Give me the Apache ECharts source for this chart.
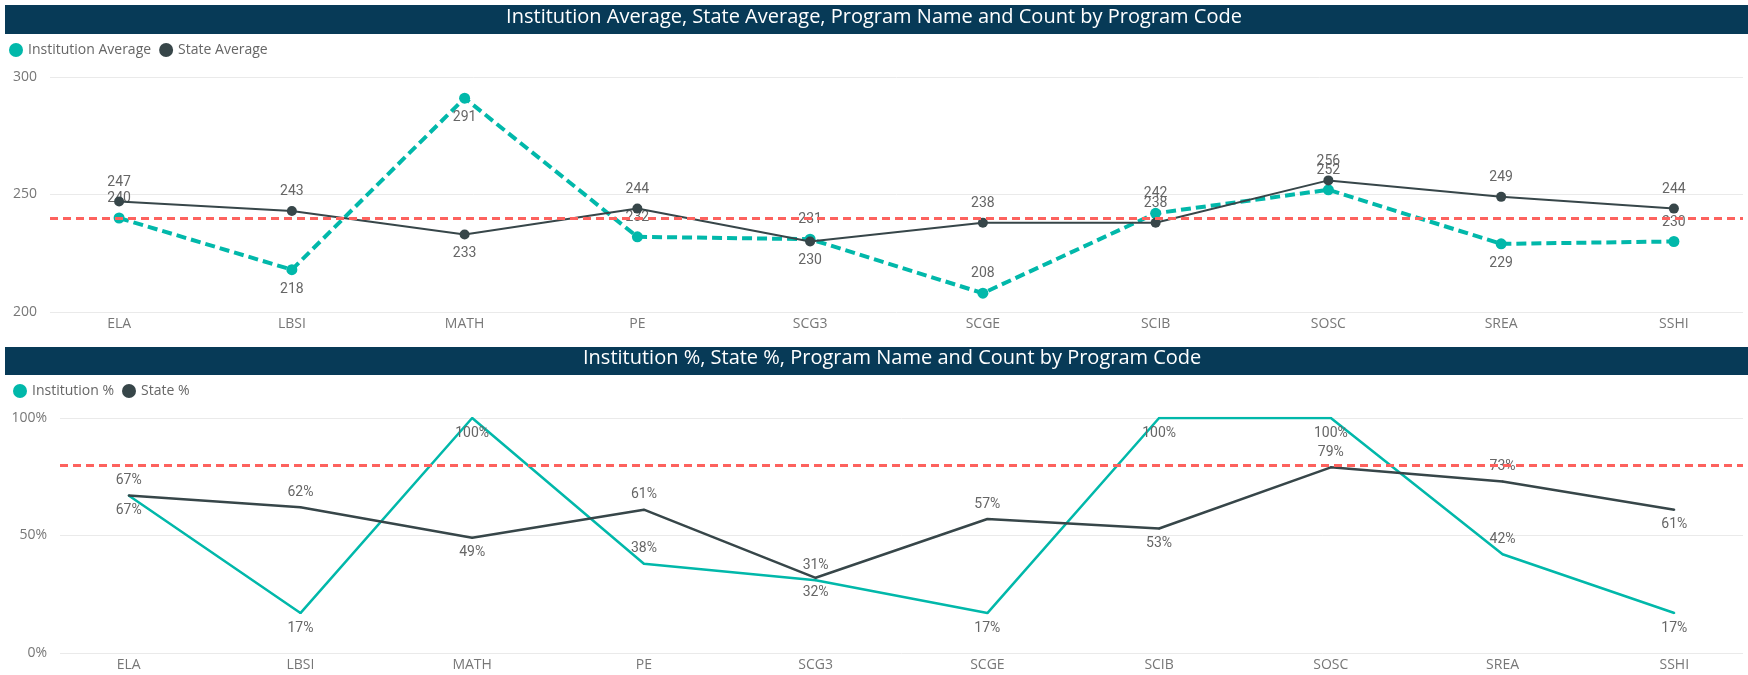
<!DOCTYPE html>
<html>
<head>
<meta charset="utf-8">
<script src="https://cdn.jsdelivr.net/npm/echarts@6/dist/echarts.min.js"></script>
<style>
html,body{margin:0;padding:0;background:#fff;}
#main{width:1748px;height:675px;}
</style>
</head>
<body>
<div id="main"></div>
<script>
// program codes along the x axis
var codes = ['ELA','LBSI','MATH','PE','SCG3','SCGE','SCIB','SOSC','SREA','SSHI'];

// top chart: averages
var instAvg  = [240,218,291,232,231,208,242,252,229,230];
var stateAvg = [247,243,233,244,230,238,238,256,249,244];
var avgTarget = 240;

// bottom chart: percentages
var instPct  = [67,17,100,38,31,17,100,100,42,17];
var statePct = [67,62,49,61,32,57,53,79,73,61];
var pctTarget = 80;

// codes whose data label sits under the point
var instAvgBelow  = ['LBSI','MATH','SREA'];
var stateAvgBelow = ['MATH','SCG3'];
var instPctBelow  = ['ELA','LBSI','MATH','SCGE','SCIB','SOSC','SSHI'];
var statePctBelow = ['MATH','SCG3','SCIB','SSHI'];

var teal = '#01B8AA', dark = '#374649', red = '#FD625E';
var labelFont = 'Roboto, "DejaVu Sans", sans-serif';
var uiFont = '"Open Sans", "Noto Sans", sans-serif';

function points(vals, below){
    return vals.map(function(v, i){
        return {value:[i, v], label:{position: below.indexOf(codes[i]) >= 0 ? 'bottom' : 'top'}};
    });
}

function xAxisFor(idx){
    return {
        type:'value', gridIndex:idx, min:-0.4, max:9.4,
        splitLine:{show:false}, axisLine:{show:false}, axisTick:{show:false},
        axisLabel:{
            customValues: codes.map(function(c, i){ return i; }),
            formatter:function(v){ return codes[v]; },
            color:'#777', fontSize:14, fontFamily:uiFont, margin:5
        }
    };
}

function yAxisFor(idx, min, max, fmt){
    return {
        type:'value', gridIndex:idx, min:min, max:max, interval:(max - min) / 2,
        axisLine:{show:false}, axisTick:{show:false},
        axisLabel:{formatter:fmt, color:'#777', fontSize:14, fontFamily:uiFont, margin:13},
        splitLine:{lineStyle:{color:'#EAEAEA', width:1}}
    };
}

function dataLabel(suffix){
    return {
        show:true, distance:7, color:'#666', fontSize:14, fontFamily:labelFont,
        formatter:function(p){ return p.value[1] + suffix; }
    };
}

function targetLine(idx, value){
    return {
        type:'line', xAxisIndex:idx, yAxisIndex:idx, data:[], z:10,
        markLine:{
            silent:true, symbol:'none', label:{show:false},
            lineStyle:{color:red, type:[8,5], width:3},
            data:[{yAxis:value}]
        }
    };
}

var myChart = echarts.init(document.getElementById('main'));
var option = {
    animation:false,
    graphic:[
        {type:'rect', shape:{x:5, y:5, width:1743, height:29}, style:{fill:'#073A57'}},
        {type:'rect', shape:{x:5, y:347, width:1743, height:28}, style:{fill:'#073A57'}}
    ],
    title:[
        {
            text:'Institution Average, State Average, Program Name and Count by Program Code',
            left:'center', top:7, padding:0,
            textStyle:{color:'#fff', fontSize:20, fontWeight:'normal', fontFamily:uiFont}
        },
        {
            text:'Institution %, State %, Program Name and Count by Program Code',
            left:583, top:348, padding:0,
            textStyle:{color:'#fff', fontSize:20, fontWeight:'normal', fontFamily:uiFont}
        }
    ],
    legend:[
        {
            data:['Institution Average','State Average'], left:9, top:43, padding:0,
            icon:'circle', itemWidth:14, itemHeight:14, itemGap:8,
            textStyle:{color:'#666', fontSize:14, fontFamily:uiFont}
        },
        {
            data:['Institution %','State %'], left:13, top:384, padding:0,
            icon:'circle', itemWidth:14, itemHeight:14, itemGap:8,
            textStyle:{color:'#666', fontSize:14, fontFamily:uiFont}
        }
    ],
    grid:[
        {left:50, right:5, top:77, bottom:363},
        {left:60, right:5, top:418, bottom:22}
    ],
    xAxis:[xAxisFor(0), xAxisFor(1)],
    yAxis:[
        yAxisFor(0, 200, 300, '{value}'),
        yAxisFor(1, 0, 100, '{value}%')
    ],
    series:[
        {
            name:'Institution Average', type:'line', xAxisIndex:0, yAxisIndex:0, z:3,
            data:points(instAvg, instAvgBelow),
            symbol:'circle', symbolSize:11,
            lineStyle:{color:teal, width:4, type:[10,5]},
            itemStyle:{color:teal},
            label:dataLabel('')
        },
        {
            name:'State Average', type:'line', xAxisIndex:0, yAxisIndex:0, z:4,
            data:points(stateAvg, stateAvgBelow),
            symbol:'circle', symbolSize:10,
            lineStyle:{color:dark, width:2},
            itemStyle:{color:dark},
            label:dataLabel('')
        },
        targetLine(0, avgTarget),
        {
            name:'Institution %', type:'line', xAxisIndex:1, yAxisIndex:1, z:3,
            data:points(instPct, instPctBelow),
            symbol:'circle', symbolSize:2,
            lineStyle:{color:teal, width:2.5},
            itemStyle:{color:teal},
            label:dataLabel('%')
        },
        {
            name:'State %', type:'line', xAxisIndex:1, yAxisIndex:1, z:4,
            data:points(statePct, statePctBelow),
            symbol:'circle', symbolSize:2,
            lineStyle:{color:dark, width:2.5},
            itemStyle:{color:dark},
            label:dataLabel('%')
        },
        targetLine(1, pctTarget)
    ]
};
myChart.setOption(option);
</script>
</body>
</html>
